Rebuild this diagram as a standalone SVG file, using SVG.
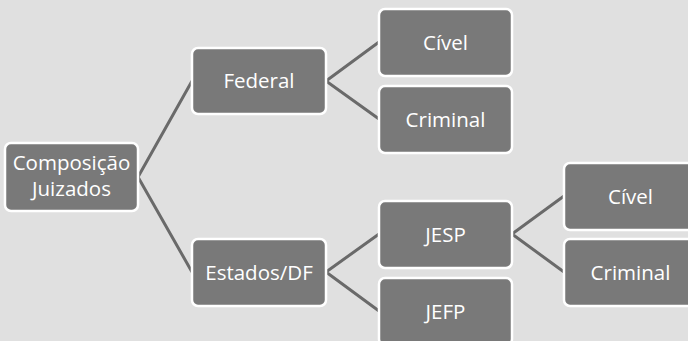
<svg xmlns="http://www.w3.org/2000/svg" width="688" height="341" viewBox="0 0 688 341">
<style>
.box{fill:#797979;stroke:#ffffff;stroke-width:2.5}
.t{fill:#ffffff;font-family:"Open Sans","Noto Sans",sans-serif;font-size:20.5px;text-anchor:middle}
.c{stroke:#6a6a6a;stroke-width:3;fill:none}
</style>
<rect width="688" height="341" fill="#e0e0e0"/>
<g id="connectors">
<polyline class="c" points="192,81 138,177 192,272"/>
<polyline class="c" points="379,42 326,81 379,119"/>
<polyline class="c" points="379,234 326,272 379,311"/>
<polyline class="c" points="564,196 512,234 564,272"/>
</g>
<g id="root"><rect class="box" x="5" y="143" width="133" height="68" rx="6"/><text class="t" x="71.5" y="170">Composição</text><text class="t" x="71.5" y="196">Juizados</text></g>
<g id="federal"><rect class="box" x="192" y="48" width="134" height="66" rx="6"/><text class="t" x="259" y="88">Federal</text></g>
<g id="estados"><rect class="box" x="192" y="239" width="134" height="67" rx="6"/><text class="t" x="259" y="280">Estados/DF</text></g>
<g id="civel1"><rect class="box" x="379" y="9" width="133" height="67" rx="6"/><text class="t" x="445.5" y="50">Cível</text></g>
<g id="criminal1"><rect class="box" x="379" y="86" width="133" height="67" rx="6"/><text class="t" x="445.5" y="127">Criminal</text></g>
<g id="jesp"><rect class="box" x="379" y="201" width="133" height="67" rx="6"/><text class="t" x="445.5" y="242">JESP</text></g>
<g id="jefp"><rect class="box" x="379" y="278" width="133" height="67" rx="6"/><text class="t" x="445.5" y="319">JEFP</text></g>
<g id="civel2"><rect class="box" x="564" y="163" width="133" height="67" rx="6"/><text class="t" x="630.5" y="204">Cível</text></g>
<g id="criminal2"><rect class="box" x="564" y="239" width="133" height="67" rx="6"/><text class="t" x="630.5" y="280">Criminal</text></g>
</svg>
